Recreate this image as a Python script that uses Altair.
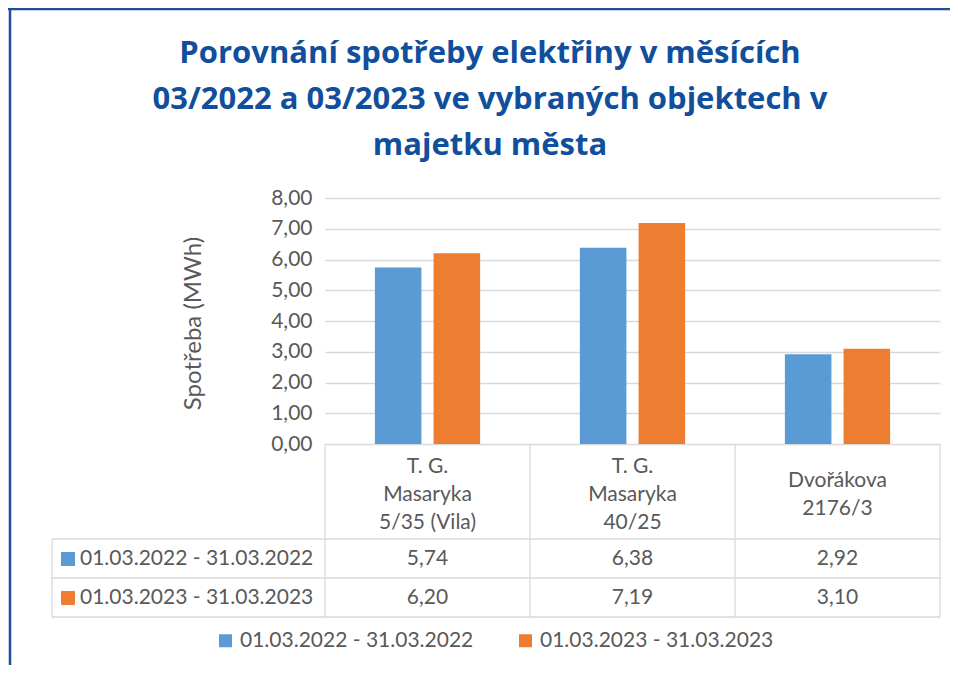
import altair as alt
import pandas as pd

# ---- data ----
categories = ["T. G. Masaryka 5/35 (Vila)", "T. G. Masaryka 40/25", "Dvořákova 2176/3"]
category_labels = ["T. G.\nMasaryka\n5/35 (Vila)", "T. G.\nMasaryka\n40/25", "Dvořákova\n2176/3"]
label_line_counts = [3, 3, 2]
series = ["01.03.2022 - 31.03.2022", "01.03.2023 - 31.03.2023"]
values_2022 = [5.74, 6.38, 2.92]
values_2023 = [6.20, 7.19, 3.10]
colors = ["#5B9BD5", "#ED7D31"]
y_ticks = [0, 1, 2, 3, 4, 5, 6, 7, 8]
title_lines = [
    "Porovnání spotřeby elektřiny v měsících",
    "03/2022 a 03/2023 ve vybraných objektech v",
    "majetku města",
]
y_title = "Spotřeba (MWh)"

rows = []
for s, vals in zip(series, [values_2022, values_2023]):
    for c, v in zip(categories, vals):
        rows.append({"cat": c, "series": s, "value": v})
df = pd.DataFrame(rows)
cat_df = pd.DataFrame({"cat": categories, "label": category_labels, "n": label_line_counts})
one = pd.DataFrame({"k": [0]})

FONT = "Lato"
GRAY = "#595959"
LINE = "#D9D9D9"
FRAME = "#1F4E96"

W, H = 615, 246
HEADER_MID = 297
HEADER_LH = 28
ROW_Y = [361, 400]
ROW_LINES = [341, 380, 419]
LEFT_COL = -273

x_enc = alt.X("cat:N", sort=categories, axis=None,
              scale=alt.Scale(paddingInner=0, paddingOuter=0))
color_enc = alt.Color(
    "series:N", sort=series,
    scale=alt.Scale(domain=series, range=colors),
    legend=alt.Legend(
        orient="none", legendX=-110, legendY=432, direction="horizontal",
        title=None, symbolType="square", symbolSize=169, symbolStrokeWidth=0,
        labelFontSize=21, labelFont=FONT, labelColor=GRAY, labelLimit=0,
        columnPadding=41, labelOffset=4,
    ),
)

bars = alt.Chart(df).mark_bar().encode(
    x=x_enc,
    xOffset=alt.XOffset("series:N", sort=series,
                        scale=alt.Scale(paddingInner=0.207, paddingOuter=0.85)),
    y=alt.Y("value:Q", scale=alt.Scale(domain=[0, 8], nice=False),
            axis=alt.Axis(
                values=y_ticks,
                labelExpr="replace(format(datum.value, '.2f'), '.', ',')",
                grid=True, gridColor=LINE, gridWidth=1.3,
                domain=False, ticks=False, labelPadding=13,
                labelFontSize=21, labelFont=FONT, labelColor=GRAY,
                title=y_title, titleFontSize=24, titleFont=FONT,
                titleFontWeight="normal", titleColor=GRAY,
                titleX=-132, titleY=125, titleAlign="center", titleBaseline="middle",
            )),
    color=color_enc,
)

text_style = dict(font=FONT, fontSize=21, color=GRAY)

layers = [bars]

# category header (multi-line, vertically centred in the header cell)
for n in sorted(set(label_line_counts)):
    first_line = HEADER_MID - (n - 1) * HEADER_LH / 2
    layers.append(alt.Chart(cat_df).transform_filter(alt.datum.n == n).mark_text(
        lineBreak="\n", lineHeight=HEADER_LH, baseline="middle", **text_style
    ).encode(x=alt.X("cat:N", sort=categories), y=alt.value(first_line), text="label:N"))

for s, yy in zip(series, ROW_Y):
    vals = alt.Chart(df).transform_filter(alt.datum.series == s).transform_calculate(
        lbl="replace(format(datum.value, '.2f'), '.', ',')"
    ).mark_text(baseline="middle", **text_style).encode(
        x=alt.X("cat:N", sort=categories), y=alt.value(yy), text="lbl:N")
    lab = alt.Chart(pd.DataFrame({"series": [s]})).mark_text(
        align="left", baseline="middle", **text_style
    ).encode(x=alt.value(-245), y=alt.value(yy), text="series:N")
    sq = alt.Chart(pd.DataFrame({"series": [s]})).mark_square(
        size=196, opacity=1
    ).encode(x=alt.value(-257), y=alt.value(yy), color=color_enc)
    layers += [vals, lab, sq]

# table grid lines
vlines = alt.Chart(cat_df).mark_rule(color=LINE, strokeWidth=1.3).encode(
    x=alt.X("cat:N", sort=categories, bandPosition=0),
    y=alt.value(H), y2=alt.value(ROW_LINES[-1]))
rline = alt.Chart(one).mark_rule(color=LINE, strokeWidth=1.3).encode(
    x=alt.value(W), y=alt.value(H), y2=alt.value(ROW_LINES[-1]))
lline = alt.Chart(one).mark_rule(color=LINE, strokeWidth=1.3).encode(
    x=alt.value(LEFT_COL), y=alt.value(ROW_LINES[0]), y2=alt.value(ROW_LINES[-1]))
layers += [vlines, rline, lline]
for yy in ROW_LINES:
    layers.append(alt.Chart(one).mark_rule(color=LINE, strokeWidth=1.3).encode(
        x=alt.value(LEFT_COL), x2=alt.value(W), y=alt.value(yy)))

# outer frame
layers.append(alt.Chart(one).mark_rule(color=FRAME, strokeWidth=2.5).encode(
    x=alt.value(-317), x2=alt.value(W + 10), y=alt.value(-189)))
layers.append(alt.Chart(one).mark_rule(color=FRAME, strokeWidth=2.5).encode(
    x=alt.value(-315), y=alt.value(-190), y2=alt.value(H + 221)))

# title
title = alt.Chart(pd.DataFrame({"t": ["\n".join(title_lines)]})).mark_text(
    lineBreak="\n", lineHeight=46, baseline="alphabetic", align="center",
    font="Open Sans", fontSize=31, fontWeight="bold", color="#114E9C"
).encode(x=alt.value(165), y=alt.value(-135), text="t:N")
layers.append(title)

chart = alt.layer(*layers).properties(
    width=W, height=H,
    autosize=alt.AutoSizeParams(type="none"),
    padding={"left": 317, "top": 190, "right": 10, "bottom": 221},
    background="white",
).configure_view(stroke=None)

chart.save("out.html", embed_options={"renderer": "svg", "actions": False})
